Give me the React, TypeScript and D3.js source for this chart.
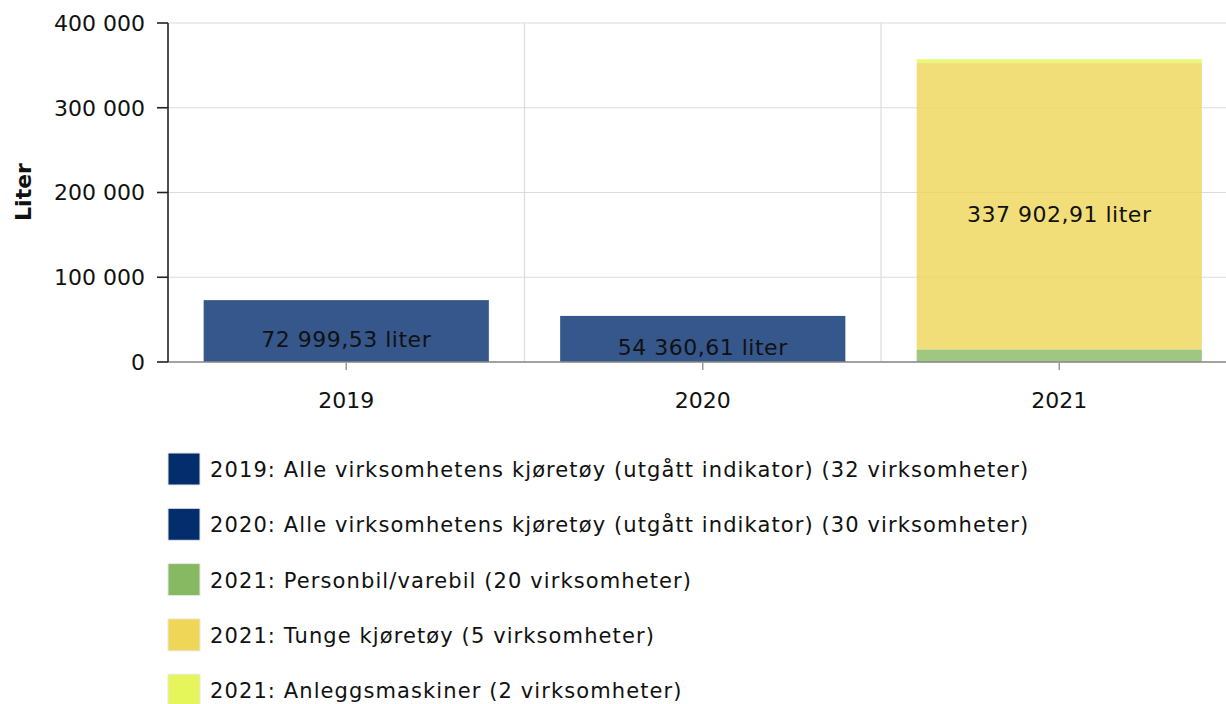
import React from "react";
import * as d3 from "d3";

const years = ["2019", "2020", "2021"];
const series = [
  { key: "s2019", label: "2019: Alle virksomhetens kjøretøy (utgått indikator) (32 virksomheter)", color: "#042d6e", year: "2019", value: 72999.53 },
  { key: "s2020", label: "2020: Alle virksomhetens kjøretøy (utgått indikator) (30 virksomheter)", color: "#042d6e", year: "2020", value: 54360.61 },
  { key: "pers", label: "2021: Personbil/varebil (20 virksomheter)", color: "#87b963", year: "2021", value: 14800 },
  { key: "tunge", label: "2021: Tunge kjøretøy (5 virksomheter)", color: "#efd657", year: "2021", value: 337902.91 },
  { key: "anlegg", label: "2021: Anleggsmaskiner (2 virksomheter)", color: "#e4f65a", year: "2021", value: 4600 },
];
const barLabels = [
  { year: "2019", key: "s2019", text: "72 999,53 liter" },
  { year: "2020", key: "s2020", text: "54 360,61 liter" },
  { year: "2021", key: "tunge", text: "337 902,91 liter" },
];
const yTicks = [0, 100000, 200000, 300000, 400000];
const yTitle = "Liter";

const W = 1226;
const H = 704;
const FONT = "'DejaVu Sans', Verdana, sans-serif";

export default function App() {
  const left = 168;
  const x = d3.scaleBand().domain(years).range([left, left + 3 * 356.5]).paddingInner(0).paddingOuter(0);
  const y = d3.scaleLinear().domain([0, 400000]).range([362, 23]);
  const fmt = (v: number) => d3.format(",")(v).replace(/,/g, " ");

  const segs: { key: string; year: string; y0: number; y1: number; color: string }[] = [];
  const acc: Record<string, number> = {};
  series.forEach((s) => {
    const base = acc[s.year] || 0;
    segs.push({ key: s.key, year: s.year, y0: base, y1: base + s.value, color: s.color });
    acc[s.year] = base + s.value;
  });
  const bw = x.bandwidth();
  const inset = bw * 0.1;

  return (
    <svg width={W} height={H} style={{ position: "absolute", left: 0, top: 0, fontFamily: FONT }}>
      <rect width={W} height={H} fill="#fff" />
      {yTicks.map((t) => (
        <line key={"g" + t} x1={left} x2={W} y1={y(t)} y2={y(t)} stroke="#dcdcdc" strokeWidth={1.2} />
      ))}
      {years.slice(1).map((yr) => (
        <line key={"v" + yr} x1={x(yr)!} x2={x(yr)!} y1={y(400000)} y2={y(0)} stroke="#dcdcdc" strokeWidth={1.2} />
      ))}
      {segs.map((s) => (
        <rect
          key={s.key}
          x={x(s.year)! + inset}
          width={bw - 2 * inset}
          y={y(s.y1)}
          height={y(s.y0) - y(s.y1)}
          fill={s.color}
          fillOpacity={0.8}
        />
      ))}
      {barLabels.map((b) => {
        const s = segs.find((d) => d.key === b.key)!;
        const cy = (y(s.y0) + y(s.y1)) / 2;
        return (
          <text key={"l" + b.key} x={x(b.year)! + bw / 2} y={cy + 16} textAnchor="middle" fontSize={22} letterSpacing={0.5} fill="#111">
            {b.text}
          </text>
        );
      })}
      <line x1={left} x2={W} y1={y(0)} y2={y(0)} stroke="#888" strokeWidth={1.5} />
      {years.map((yr) => (
        <g key={"xt" + yr}>
          <line x1={x(yr)! + bw / 2} x2={x(yr)! + bw / 2} y1={y(0)} y2={y(0) + 8} stroke="#999" strokeWidth={1.5} />
          <text x={x(yr)! + bw / 2} y={408} textAnchor="middle" fontSize={22} fill="#111">
            {yr}
          </text>
        </g>
      ))}
      <line x1={left} x2={left} y1={y(400000)} y2={y(0)} stroke="#222" strokeWidth={1.6} />
      {yTicks.map((t) => (
        <g key={"yt" + t}>
          <line x1={157} x2={left} y1={y(t)} y2={y(t)} stroke="#222" strokeWidth={1.6} />
          <text x={145} y={y(t)} dy="0.36em" textAnchor="end" fontSize={22} fill="#111">
            {fmt(t)}
          </text>
        </g>
      ))}
      <text transform={`translate(31,192) rotate(-90)`} textAnchor="middle" fontSize={22} fontWeight="bold" fill="#111">
        {yTitle}
      </text>
      {series.map((s, i) => {
        const cy = 469 + i * 55.3;
        return (
          <g key={"lg" + s.key}>
            <rect x={168} y={cy - 16} width={32} height={32} fill={s.color} stroke="#e8e8e8" strokeWidth={1} />
            <text x={210} y={cy + 8} fontSize={21} letterSpacing={1.1} fill="#111">
              {s.label}
            </text>
          </g>
        );
      })}
    </svg>
  );
}
